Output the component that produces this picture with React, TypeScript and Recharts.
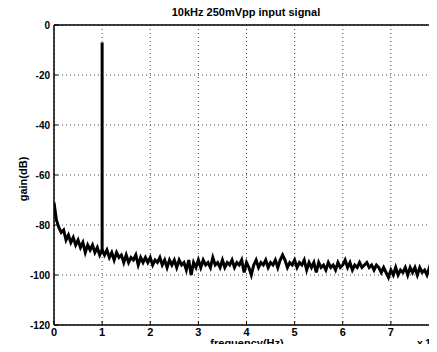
import React from "react";
import { LineChart, Line, XAxis, YAxis, CartesianGrid, ReferenceLine } from "recharts";

const title = "10kHz 250mVpp input signal";
const xLabel = "frequency(Hz)";
const yLabel = "gain(dB)";
const xTicks = [0, 1, 2, 3, 4, 5, 6, 7];
const xGrid = [0, 1, 2, 3, 4, 5, 6, 7, 8];
const yTicks = [0, -20, -40, -60, -80, -100, -120];
const binStep = 0.05; // x 10^4 Hz per sample

// noise floor gain (dB), one value per bin from 0 to 8 (x10^4 Hz)
const gainDb = [
  -71, -78, -81, -83, -82, -86, -84, -87, -85, -88,
  -86, -89, -87, -91, -88, -90, -88, -91, -89, -92,
  -90, -92, -90, -93, -91, -94, -91, -93, -92, -95,
  -92, -95, -93, -94, -92, -96, -93, -95, -93, -95,
  -93, -96, -94, -95, -93, -96, -94, -97, -94, -96,
  -94, -97, -94, -96, -95, -98, -94, -100, -95, -97,
  -94, -97, -94, -96, -95, -97, -93, -96, -95, -97,
  -94, -97, -95, -96, -94, -97, -95, -96, -94, -99,
  -95, -97, -100, -96, -94, -97, -95, -96, -94, -97,
  -95, -96, -94, -97, -94, -92, -94, -97, -95, -96,
  -94, -97, -95, -96, -94, -98, -95, -97, -95, -99,
  -95, -97, -96, -98, -95, -97, -96, -98, -95, -97,
  -96, -94, -97, -95, -98, -96, -97, -95, -97, -96,
  -95, -97, -96, -98, -96, -97, -99, -97, -99, -101,
  -98, -100, -97, -100, -98, -99, -97, -100, -97, -99,
  -97, -100, -97, -99, -98, -100, -97, -99, -97, -100,
  -98,
];

// 10 kHz tone
const toneFreq = [1, 1];
const toneGain = [-91, -7];

const data = gainDb.map((g, i) => ({ f: Number((i * binStep).toFixed(2)), g }));
const toneData = toneFreq.map((f, i) => ({ f, g: toneGain[i] }));

const font = "'Liberation Sans', Arial, sans-serif";
const labelStyle: React.CSSProperties = { position: "absolute", zIndex: 5, fontSize: 11, fontWeight: 700, lineHeight: "12px", color: "#000" };

const X_MARGIN = 2;
const Y_MARGIN = 4;

function XTick(props: any) {
  const { x, y, payload } = props;
  const axisY = y - X_MARGIN;
  return (
    <g>
      <line x1={x} x2={x} y1={axisY} y2={axisY - 4} stroke="#000" strokeWidth={1} />
      <text x={x} y={y} dy={9} textAnchor="middle" fill="#000" fontSize={11} fontWeight={700} fontFamily={font}>
        {payload.value}
      </text>
    </g>
  );
}

function YTick(props: any) {
  const { x, y, payload } = props;
  const axisX = x + Y_MARGIN;
  return (
    <g>
      <line x1={axisX} x2={axisX + 4} y1={y} y2={y} stroke="#000" strokeWidth={1} />
      <text x={x} y={y} dy={3.5} textAnchor="end" fill="#000" fontSize={10} fontWeight={700} fontFamily={font}>
        {payload.value}
      </text>
    </g>
  );
}

export default function App() {
  return (
    <div style={{ margin: -8, width: 437, height: 352, overflow: "hidden", position: "relative", background: "#fff", fontFamily: font }}>
      <LineChart width={448} height={352} margin={{ top: 25, right: 9, bottom: 0, left: 0 }}>
        <CartesianGrid stroke="#444" strokeDasharray="1 3" strokeWidth={1} verticalValues={xGrid} />
        <XAxis
          dataKey="f"
          type="number"
          domain={[0, 8]}
          ticks={xTicks}
          allowDataOverflow
          height={27}
          tickSize={0}
          tickMargin={X_MARGIN}
          axisLine={{ stroke: "#000", strokeWidth: 1.5 }}
          tick={<XTick />}
        />
        <YAxis
          dataKey="g"
          type="number"
          domain={[-120, 0]}
          ticks={yTicks}
          width={54}
          tickSize={0}
          tickMargin={Y_MARGIN}
          axisLine={{ stroke: "#000", strokeWidth: 1.5 }}
          tick={<YTick />}
        />
        <ReferenceLine y={0} stroke="#000" strokeWidth={1.5} />
        <ReferenceLine x={8} stroke="#000" strokeWidth={1.5} />
        <Line data={data} dataKey="g" stroke="#000" strokeWidth={3} dot={false} isAnimationActive={false} />
        <Line data={toneData} dataKey="g" stroke="#000" strokeWidth={3} dot={false} isAnimationActive={false} />
      </LineChart>
      <div style={{ ...labelStyle, left: 0, width: 494, top: 337, textAlign: "center" }}>{xLabel}</div>
      <div style={{ ...labelStyle, left: 0, width: 492, top: 6, textAlign: "center" }}>{title}</div>
      <div style={{ ...labelStyle, left: 417, top: 338, fontSize: 10 }}>x 10</div>
      <div style={{ ...labelStyle, left: 23, top: 179, transform: "translate(-50%, -50%) rotate(-90deg)", whiteSpace: "nowrap" }}>{yLabel}</div>
    </div>
  );
}
